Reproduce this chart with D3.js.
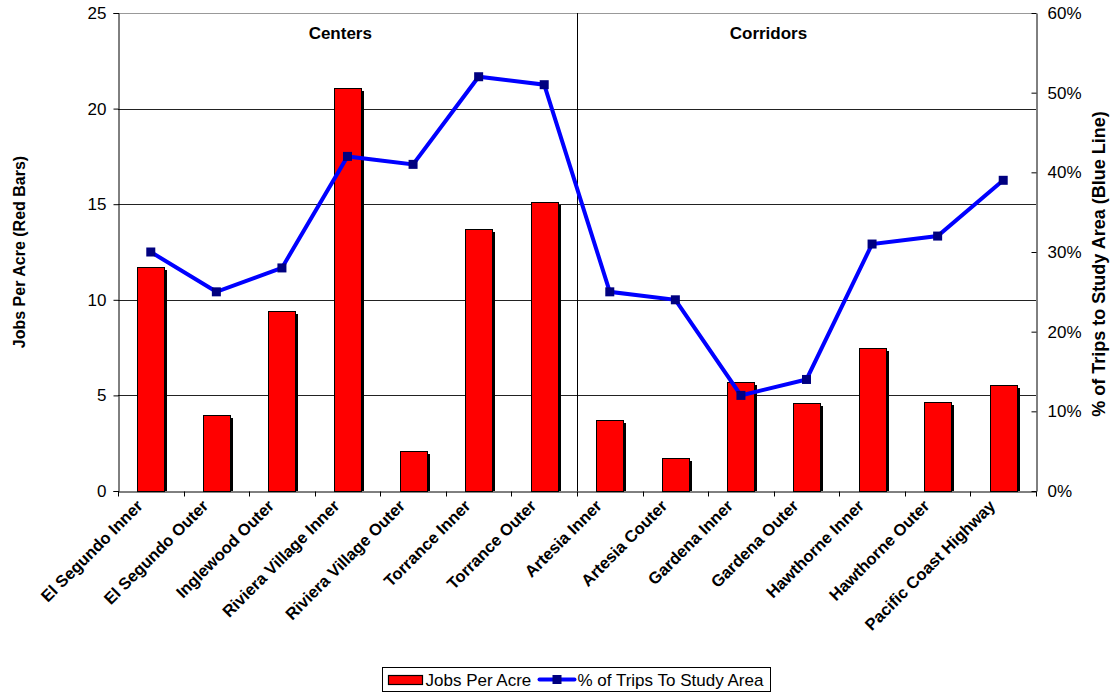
<!DOCTYPE html>
<html>
<head>
<meta charset="utf-8">
<script src="https://cdn.jsdelivr.net/npm/d3@7"></script>
<style>
  body { margin: 0; background: #fff; }
  svg { font-family: Arial, "Liberation Sans", sans-serif; }
</style>
</head>
<body>
<script>
var categories = ["El Segundo Inner", "El Segundo Outer", "Inglewood Outer", "Riviera Village Inner",
    "Riviera Village Outer", "Torrance Inner", "Torrance Outer", "Artesia Inner", "Artesia Couter",
    "Gardena Inner", "Gardena Outer", "Hawthorne Inner", "Hawthorne Outer", "Pacific Coast Highway"];
var jobsPerAcre = [11.7, 4.0, 9.4, 21.1, 2.1, 13.7, 15.1, 3.7, 1.75, 5.7, 4.6, 7.5, 4.65, 5.55];
var tripsPct = [30, 25, 28, 42, 41, 52, 51, 25, 24, 12, 14, 31, 32, 39];
var leftTicks = [0, 5, 10, 15, 20, 25];
var rightTicks = [0, 10, 20, 30, 40, 50, 60];
var groupNames = ["Centers", "Corridors"];

var width = 1114, height = 694;
var mLeft = 118, mRight = 1036, mTop = 13, mBottom = 491;

var svg = d3.select("body").append("svg")
    .attr("width", width)
    .attr("height", height);

var x = d3.scaleBand()
    .domain(categories)
    .range([mLeft, mRight])
    .paddingInner(0).paddingOuter(0);

var y = d3.scaleLinear().domain([0, 25]).range([mBottom, mTop]);
var y2 = d3.scaleLinear().domain([0, 60]).range([mBottom, mTop]);

// gridlines
svg.append("g").selectAll("line")
    .data(leftTicks.slice(1))
    .enter().append("line")
    .attr("x1", mLeft).attr("x2", mRight)
    .attr("y1", function(d) { return Math.round(y(d)) + 0.5; })
    .attr("y2", function(d) { return Math.round(y(d)) + 0.5; })
    .attr("stroke", function(d) { return d == 25 ? "#999" : "#222"; })
    .attr("stroke-width", 1);

// separator between centers and corridors
var sepX = Math.round(x(categories[7])) + 0.5;
svg.append("line")
    .attr("x1", sepX).attr("x2", sepX)
    .attr("y1", mTop).attr("y2", mBottom)
    .attr("stroke", "#000");

// bars (with shadow)
var bw = Math.round(x.bandwidth() * 0.41);
var barGroup = svg.append("g");
categories.forEach(function(c, i) {
    var cx = x(c) + x.bandwidth() / 2;
    var bx = Math.round(cx - bw / 2);
    var by = Math.round(y(jobsPerAcre[i]));
    barGroup.append("rect")
        .attr("x", bx + 3).attr("y", by + 3)
        .attr("width", bw).attr("height", mBottom - by - 3)
        .attr("fill", "#000");
    barGroup.append("rect")
        .attr("x", bx + 0.5).attr("y", by + 0.5)
        .attr("width", bw).attr("height", mBottom - by)
        .attr("fill", "#ff0000")
        .attr("stroke", "#000")
        .attr("stroke-width", 1);
});

// axes
var yAxis = d3.axisLeft(y).tickValues(leftTicks).tickSize(5).tickPadding(7);
var gy = svg.append("g").attr("transform", "translate(" + (mLeft + 0.5) + ",0)").call(yAxis);
var yAxis2 = d3.axisRight(y2).tickValues(rightTicks).tickSize(0).tickPadding(11)
    .tickFormat(function(d) { return d + "%"; });
var gy2 = svg.append("g").attr("transform", "translate(" + (mRight + 0.5) + ",0)").call(yAxis2);
gy2.selectAll(".tick").append("line").attr("x1", -5).attr("x2", 0).attr("stroke", "#000");
var xAxis = d3.axisBottom(x).tickSize(0).tickFormat("");
var gx = svg.append("g").attr("transform", "translate(0," + (mBottom + 0.5) + ")").call(xAxis);
gx.selectAll(".tick").remove();
gx.selectAll("line.sep")
    .data(d3.range(categories.length + 1))
    .enter().append("line")
    .attr("class", "sep")
    .attr("x1", function(i) { return Math.round(mLeft + i * x.bandwidth()) + 0.5; })
    .attr("x2", function(i) { return Math.round(mLeft + i * x.bandwidth()) + 0.5; })
    .attr("y1", 0).attr("y2", 5)
    .attr("stroke", "#000");

[gy, gy2, gx].forEach(function(g) {
    g.select(".domain").attr("stroke", "#000");
    g.selectAll("text").attr("font-size", 17).attr("fill", "#000")
        .attr("font-family", "Arial, 'Liberation Sans', sans-serif");
});

// category labels
svg.append("g").selectAll("text")
    .data(categories)
    .enter().append("text")
    .attr("transform", function(d) {
        var cx = x(d) + x.bandwidth() / 2 - 7;
        return "translate(" + cx + "," + (mBottom + 16) + ") rotate(-45)";
    })
    .attr("text-anchor", "end")
    .attr("font-size", 16.5)
    .attr("font-weight", "bold")
    .text(function(d) { return d; });

// line
var line = d3.line()
    .x(function(d, i) { return x(categories[i]) + x.bandwidth() / 2; })
    .y(function(d) { return y2(d); });
svg.append("path")
    .attr("d", line(tripsPct))
    .attr("fill", "none")
    .attr("stroke", "#0000ff")
    .attr("stroke-width", 4)
    .attr("stroke-linejoin", "miter");
svg.append("g").selectAll("rect")
    .data(tripsPct)
    .enter().append("rect")
    .attr("x", function(d, i) { return x(categories[i]) + x.bandwidth() / 2 - 4.5; })
    .attr("y", function(d) { return y2(d) - 4.5; })
    .attr("width", 9).attr("height", 9)
    .attr("fill", "#000080");

// group labels
svg.append("text")
    .attr("x", x(categories[3]) + x.bandwidth() * 0.39).attr("y", 39)
    .attr("text-anchor", "middle").attr("font-size", 17).attr("font-weight", "bold")
    .text(groupNames[0]);
svg.append("text")
    .attr("x", x(categories[9]) + x.bandwidth() * 0.92).attr("y", 39)
    .attr("text-anchor", "middle").attr("font-size", 17).attr("font-weight", "bold")
    .text(groupNames[1]);

// axis titles
svg.append("text")
    .attr("transform", "translate(25," + ((mTop + mBottom) / 2) + ") rotate(-90)")
    .attr("text-anchor", "middle").attr("font-size", 16).attr("font-weight", "bold")
    .text("Jobs Per Acre (Red Bars)");
svg.append("text")
    .attr("transform", "translate(1105,264) rotate(-90)")
    .attr("text-anchor", "middle").attr("font-size", 18).attr("font-weight", "bold")
    .text("% of Trips to Study Area (Blue Line)");

// legend
var legend = svg.append("g").attr("transform", "translate(382.5,667.5)");
legend.append("rect").attr("width", 388).attr("height", 24)
    .attr("fill", "#fff").attr("stroke", "#000");
legend.append("rect").attr("x", 6).attr("y", 8).attr("width", 34).attr("height", 9)
    .attr("fill", "#ff0000").attr("stroke", "#000").attr("stroke-width", 1.2);
legend.append("text").attr("x", 43).attr("y", 18.5).attr("font-size", 17).text("Jobs Per Acre");
legend.append("line").attr("x1", 157).attr("x2", 192).attr("y1", 12).attr("y2", 12)
    .attr("stroke", "#0000ff").attr("stroke-width", 4).attr("stroke-linecap", "round");
legend.append("rect").attr("x", 170).attr("y", 7.5).attr("width", 9).attr("height", 9)
    .attr("fill", "#000080");
legend.append("text").attr("x", 195).attr("y", 18.5).attr("font-size", 17).text("% of Trips To Study Area");
</script>
</body>
</html>
